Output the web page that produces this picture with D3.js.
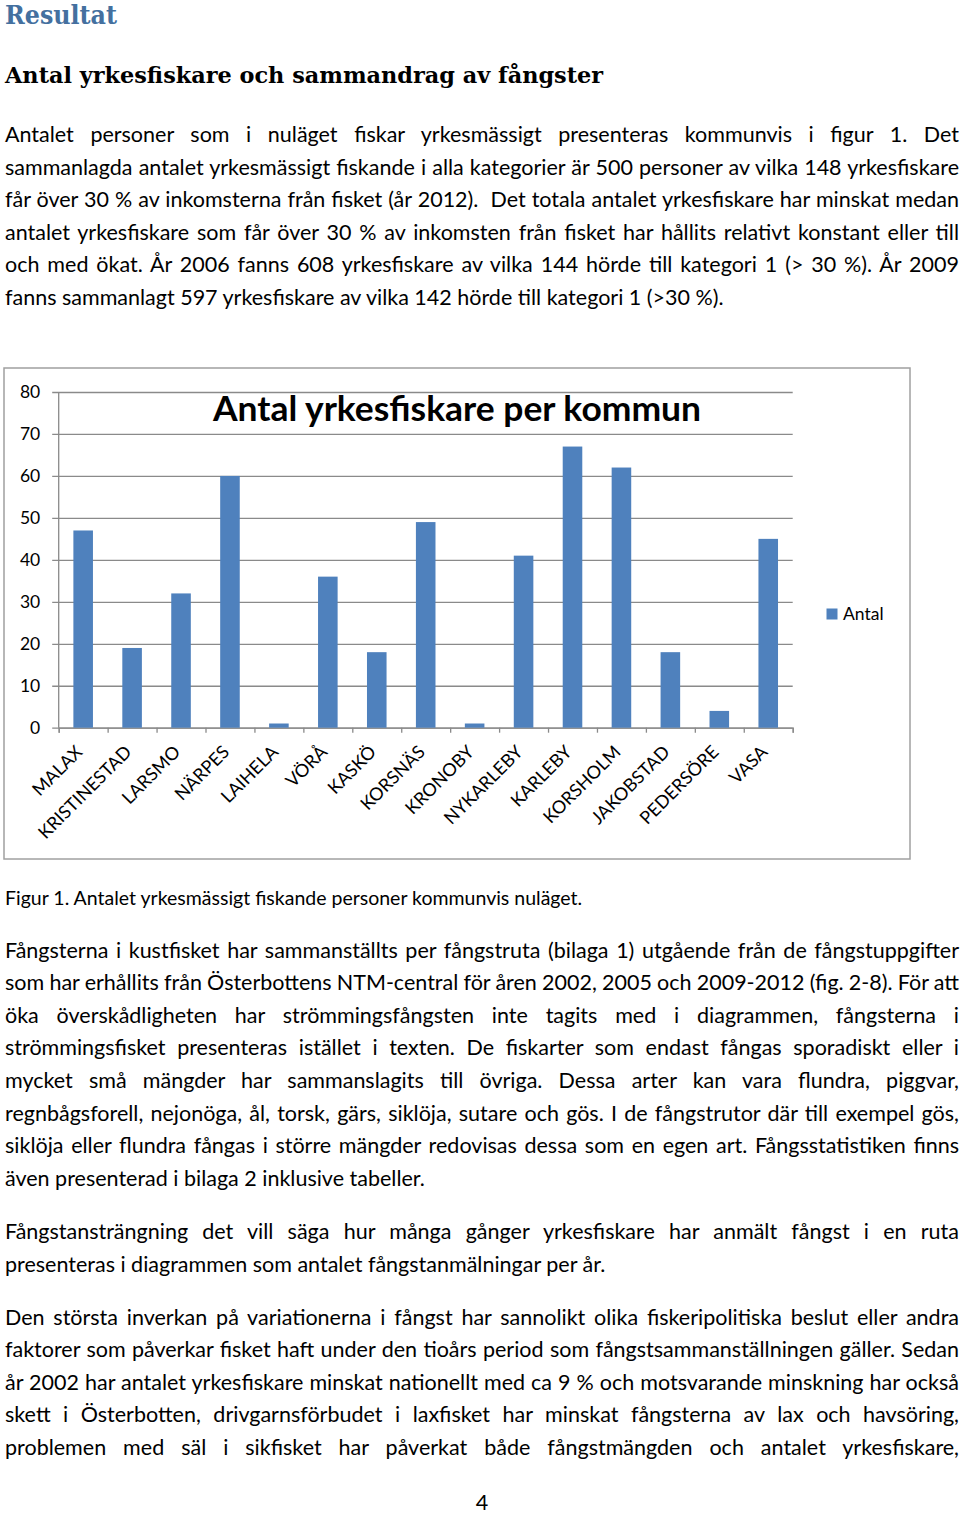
<!DOCTYPE html>
<html lang="sv">
	<head>
		<meta charset="utf-8">
		<title>Antal yrkesfiskare per kommun</title>
		<script type="text/javascript" src="https://d3js.org/d3.v7.min.js"></script>
		<style type="text/css">
			body { margin: 0; background: #fff; }
			text { white-space: pre; }
		</style>
	</head>
	<body>
		<script type="text/javascript">

			//Chart data
			var kommuner = ["MALAX", "KRISTINESTAD", "LARSMO", "NÄRPES", "LAIHELA", "VÖRÅ", "KASKÖ", "KORSNÄS",
							"KRONOBY", "NYKARLEBY", "KARLEBY", "KORSHOLM", "JAKOBSTAD", "PEDERSÖRE", "VASA"];
			var antal = [47, 19, 32, 60, 1, 36, 18, 49, 1, 41, 67, 62, 18, 4, 45];
			var yTicks = [0, 10, 20, 30, 40, 50, 60, 70, 80];
			var chartTitle = "Antal yrkesfiskare per kommun";
			var legendLabel = "Antal";

			//Page text
			var rubrik1 = "Resultat";
			var rubrik2 = "Antal yrkesfiskare och sammandrag av fångster";
			var stycke1 = [
				"Antalet personer som i nuläget fiskar yrkesmässigt presenteras kommunvis i figur 1. Det",
				"sammanlagda antalet yrkesmässigt fiskande i alla kategorier är 500 personer av vilka 148 yrkesfiskare",
				"får över 30 % av inkomsterna från fisket (år 2012).  Det totala antalet yrkesfiskare har minskat medan",
				"antalet yrkesfiskare som får över 30 % av inkomsten från fisket har hållits relativt konstant eller till",
				"och med ökat. År 2006 fanns 608 yrkesfiskare av vilka 144 hörde till kategori 1 (> 30 %). År 2009",
				"fanns sammanlagt 597 yrkesfiskare av vilka 142 hörde till kategori 1 (>30 %)."
			];
			var figurtext = "Figur 1. Antalet yrkesmässigt fiskande personer kommunvis nuläget.";
			var stycke2 = [
				"Fångsterna i kustfisket har sammanställts per fångstruta (bilaga 1) utgående från de fångstuppgifter",
				"som har erhållits från Österbottens NTM-central för åren 2002, 2005 och 2009-2012 (fig. 2-8). För att",
				"öka överskådligheten har strömmingsfångsten inte tagits med i diagrammen, fångsterna i",
				"strömmingsfisket presenteras istället i texten. De fiskarter som endast fångas sporadiskt eller i",
				"mycket små mängder har sammanslagits till övriga. Dessa arter kan vara flundra, piggvar,",
				"regnbågsforell, nejonöga, ål, torsk, gärs, siklöja, sutare och gös. I de fångstrutor där till exempel gös,",
				"siklöja eller flundra fångas i större mängder redovisas dessa som en egen art. Fångsstatistiken finns",
				"även presenterad i bilaga 2 inklusive tabeller."
			];
			var stycke3 = [
				"Fångstansträngning det vill säga hur många gånger yrkesfiskare har anmält fångst i en ruta",
				"presenteras i diagrammen som antalet fångstanmälningar per år."
			];
			var stycke4 = [
				"Den största inverkan på variationerna i fångst har sannolikt olika fiskeripolitiska beslut eller andra",
				"faktorer som påverkar fisket haft under den tioårs period som fångstsammanställningen gäller. Sedan",
				"år 2002 har antalet yrkesfiskare minskat nationellt med ca 9 % och motsvarande minskning har också",
				"skett i Österbotten, drivgarnsförbudet i laxfisket har minskat fångsterna av lax och havsöring,",
				"problemen med säl i sikfisket har påverkat både fångstmängden och antalet yrkesfiskare,"
			];
			var sidnummer = "4";

			//Width and height
			var w = 960;
			var h = 1515;
			var textLeft = 5;
			var textRight = 959;
			var lineStep = 32.6;
			var bodyFont = "Lato, 'Noto Sans', sans-serif";
			var headFont = "'DejaVu Serif', 'Liberation Serif', serif";

			//Create SVG element
			var svg = d3.select("body")
						.append("svg")
						.attr("width", w)
						.attr("height", h);

			svg.append("rect").attr("width", w).attr("height", h).attr("fill", "#fff");

			//Headings
			svg.append("text")
				.attr("x", textLeft)
				.attr("y", 24)
				.attr("font-family", headFont)
				.attr("font-weight", "bold")
				.attr("font-size", 26)
				.attr("fill", "#44709f")
				.attr("textLength", 112)
				.attr("lengthAdjust", "spacingAndGlyphs")
				.text(rubrik1);

			svg.append("text")
				.attr("x", textLeft)
				.attr("y", 83)
				.attr("font-family", headFont)
				.attr("font-weight", "bold")
				.attr("font-size", 21.5)
				.attr("fill", "#000")
				.attr("textLength", 598)
				.attr("lengthAdjust", "spacingAndGlyphs")
				.text(rubrik2);

			//Justified paragraph: last line stays left aligned unless told otherwise
			function paragraph(lines, y0, lastFull) {
				var g = svg.append("g");
				g.selectAll("text")
					.data(lines)
					.enter()
					.append("text")
					.attr("x", textLeft)
					.attr("y", function(d, i) { return y0 + i * lineStep; })
					.attr("font-family", bodyFont)
					.attr("font-size", 21.5)
					.attr("fill", "#000")
					.text(function(d) { return d; })
					.each(function(d, i) {
						if (i == lines.length - 1 && !lastFull) return;
						var nat = this.getComputedTextLength();
						var spaces = (d.match(/ /g) || []).length;
						if (spaces) d3.select(this).attr("word-spacing", (textRight - textLeft - nat) / spaces);
					});
			}

			paragraph(stycke1, 142, false);
			paragraph(stycke2, 957.5, false);
			paragraph(stycke3, 1239, false);
			paragraph(stycke4, 1324.5, true);

			svg.append("text")
				.attr("x", textLeft)
				.attr("y", 905)
				.attr("font-family", bodyFont)
				.attr("font-size", 19.5)
				.attr("fill", "#000")
				.text(figurtext);

			svg.append("text")
				.attr("x", 482)
				.attr("y", 1510)
				.attr("text-anchor", "middle")
				.attr("font-family", bodyFont)
				.attr("font-size", 21.5)
				.attr("fill", "#000")
				.text(sidnummer);

			//Chart frame
			svg.append("rect")
				.attr("x", 4)
				.attr("y", 368)
				.attr("width", 906)
				.attr("height", 491)
				.attr("fill", "#fff")
				.attr("stroke", "#a0a0a0")
				.attr("stroke-width", 1.5);

			var plot = { left: 58.7, right: 792.7, top: 392, bottom: 727.7 };

			//Scales
			var x = d3.scaleBand()
						.domain(kommuner)
						.range([plot.left, plot.right])
						.paddingInner(0.6)
						.paddingOuter(0.3);

			var y = d3.scaleLinear()
						.domain([0, 80])
						.range([plot.bottom, plot.top]);

			var xEdges = d3.scaleLinear()
						.domain([0, kommuner.length])
						.range([plot.left, plot.right]);

			//Gridlines and y labels
			var gridAxis = svg.append("g")
				.attr("transform", "translate(" + plot.right + ",0)")
				.call(d3.axisLeft(y)
					.tickValues(yTicks)
					.tickSize(plot.right - plot.left + 6.5)
					.tickPadding(12));
			gridAxis.select(".domain").remove();
			gridAxis.selectAll("line")
				.attr("stroke", "#8a8a8a")
				.attr("stroke-width", 1.3);
			gridAxis.selectAll("text")
				.attr("font-family", bodyFont)
				.attr("font-size", 17.5)
				.attr("fill", "#000");

			//Y axis line
			svg.append("line")
				.attr("x1", plot.left)
				.attr("x2", plot.left)
				.attr("y1", y(80))
				.attr("y2", y(0))
				.attr("stroke", "#8a8a8a")
				.attr("stroke-width", 1.3);

			//X axis tick marks between categories
			var xAxis = svg.append("g")
				.attr("transform", "translate(0," + y(0) + ")")
				.call(d3.axisBottom(xEdges)
					.tickValues(d3.range(kommuner.length + 1))
					.tickSize(5)
					.tickFormat(""));
			xAxis.select(".domain")
				.attr("stroke", "#8a8a8a")
				.attr("stroke-width", 1.3);
			xAxis.selectAll("line")
				.attr("stroke", "#8a8a8a")
				.attr("stroke-width", 1.3);

			//Bars
			svg.selectAll("rect.bar")
				.data(antal)
				.enter()
				.append("rect")
				.attr("class", "bar")
				.attr("x", function(d, i) { return x(kommuner[i]); })
				.attr("y", function(d) { return y(d); })
				.attr("width", x.bandwidth())
				.attr("height", function(d) { return y(0) - y(d); })
				.attr("fill", "#4f81bd");

			//Rotated category labels
			svg.selectAll("text.kommun")
				.data(kommuner)
				.enter()
				.append("text")
				.attr("class", "kommun")
				.attr("transform", function(d) {
					return "translate(" + (x(d) + x.bandwidth() / 2 - 4) + "," + (y(0) + 21) + ") rotate(-45)";
				})
				.attr("text-anchor", "end")
				.attr("dy", "0.35em")
				.attr("font-family", bodyFont)
				.attr("font-size", 18)
				.attr("fill", "#000")
				.text(function(d) { return d; });

			//Chart title
			svg.append("text")
				.attr("x", 457)
				.attr("y", 421)
				.attr("text-anchor", "middle")
				.attr("font-family", bodyFont)
				.attr("font-weight", "bold")
				.attr("font-size", 34)
				.attr("fill", "#000")
				.attr("textLength", 488)
				.attr("lengthAdjust", "spacingAndGlyphs")
				.text(chartTitle);

			//Legend
			svg.append("rect")
				.attr("x", 826.5)
				.attr("y", 608.5)
				.attr("width", 11)
				.attr("height", 11)
				.attr("fill", "#4f81bd");
			svg.append("text")
				.attr("x", 843)
				.attr("y", 620)
				.attr("font-family", bodyFont)
				.attr("font-size", 17.5)
				.attr("fill", "#000")
				.text(legendLabel);

		</script>
	</body>
</html>
